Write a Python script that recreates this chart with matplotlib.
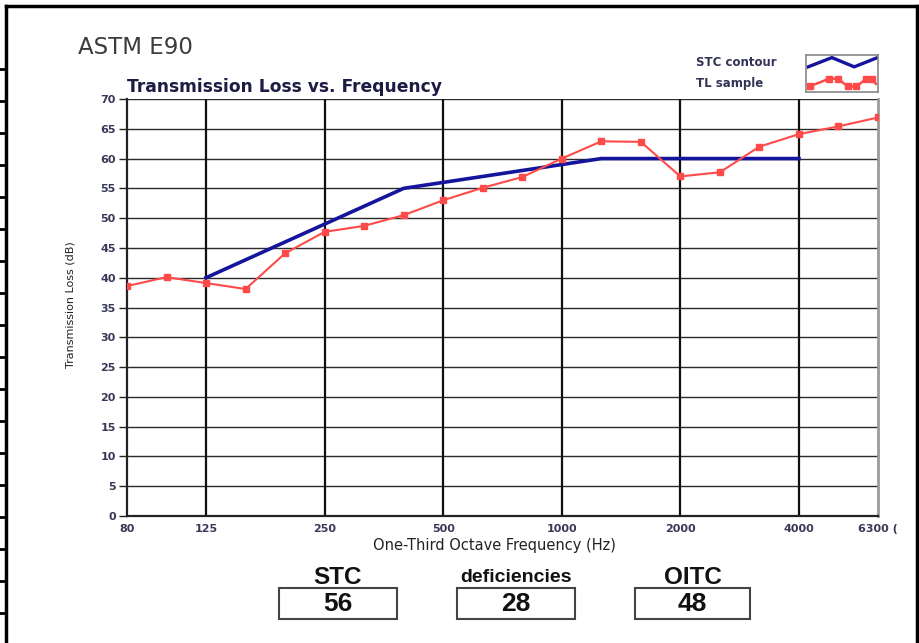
import numpy as np
import matplotlib
matplotlib.use("Agg")
import matplotlib.pyplot as plt
from matplotlib.patches import Rectangle
from matplotlib.lines import Line2D
from matplotlib import font_manager

# one-third octave bands 80 Hz .. 6300 Hz
bands = ["80", "100", "125", "160", "200", "250", "315", "400", "500", "630", "800",
         "1000", "1250", "1600", "2000", "2500", "3150", "4000", "5000", "6300"]
tl_sample = [38.6, 40.1, 39.1, 38.1, 44.1, 47.7, 48.7, 50.5, 53.0, 55.1, 56.9,
             60.0, 62.9, 62.8, 57.0, 57.7, 62.0, 64.1, 65.4, 66.9]
# STC contour, 125 Hz .. 4000 Hz
contour_bands = bands[2:18]
stc_contour = [40, 43, 46, 49, 52, 55, 56, 57, 58, 59, 60, 60, 60, 60, 60, 60]
tick_labels = ["80", "125", "250", "500", "1000", "2000", "4000", "6300 ("]
tick_bands = ["80", "125", "250", "500", "1000", "2000", "4000", "6300"]
results = [("STC", "56"), ("deficiencies", "28"), ("OITC", "48")]

# pick a narrow face for the y label if one is installed
names = {f.name for f in font_manager.fontManager.ttflist}
narrow = [n for n in ["Liberation Sans Narrow", "DejaVu Sans Condensed"] if n in names]
ylab_family = narrow[0] if narrow else "DejaVu Sans"
ylab_size = 9.5 if narrow else 8

W, H = 919, 643
fig = plt.figure(figsize=(W / 100, H / 100), dpi=100)

def fx(px):
    return px / W

def fy(py):
    return 1 - py / H

ax = fig.add_axes([fx(127), fy(516), fx(878) - fx(127), fy(99) - fy(516)])
pos = {b: i for i, b in enumerate(bands)}
x_tl = [pos[b] for b in bands]
x_stc = [pos[b] for b in contour_bands]

ax.set_xlim(0, len(bands) - 1)
ax.set_ylim(0, 70)

# grid
ax.set_yticks(np.arange(0, 71, 5))
ax.set_xticks([pos[b] for b in tick_bands])
ax.set_xticklabels(tick_labels)
for yv in np.arange(5, 71, 5):
    ax.axhline(yv, color="#2a2a2a", lw=1.0, zorder=1)
for b in tick_bands[1:-1]:
    ax.axvline(pos[b], color="#111111", lw=1.6, zorder=1)

ax.plot(x_stc, stc_contour, color="#14149c", lw=2.6, zorder=3)
ax.plot(x_tl, tl_sample, color="#ff4a4a", lw=1.5, marker="s", ms=5,
        mec="#ff4a4a", zorder=4)

for s in ["left", "bottom"]:
    ax.spines[s].set_color("#222222")
    ax.spines[s].set_linewidth(1.6)
ax.spines["top"].set_visible(False)
ax.spines["right"].set_color("#9a9a9a")
ax.spines["right"].set_linewidth(2)

lab_col = "#383858"
ax.tick_params(axis="y", length=6, width=1, color="#222222", labelsize=8,
               labelcolor=lab_col, pad=2)
ax.tick_params(axis="x", length=0, labelsize=8, labelcolor=lab_col, pad=6)
ax.set_xticks([0, len(bands) - 1], minor=True)
ax.tick_params(axis="x", which="minor", length=4, width=1, color="#222222")
for t in ax.get_xticklabels() + ax.get_yticklabels():
    t.set_fontweight("bold")

ax.set_ylabel("Transmission Loss (dB)", fontsize=ylab_size, family=ylab_family,
              color="#222222")
ax.yaxis.set_label_coords(-0.069, 0.506)
ax.set_xlabel("One-Third Octave Frequency (Hz)", fontsize=10.5, color="#222222")
ax.xaxis.set_label_coords(0.489, -0.052)

fig.text(fx(127), fy(96), "Transmission Loss vs. Frequency", fontsize=12.3,
         fontweight="bold", color="#1c1c44", ha="left", va="bottom")
fig.text(fx(78), fy(47), "ASTM E90", fontsize=16.5, color="#3c3c3c",
         ha="left", va="center")

# legend
fig.text(fx(696), fy(63), "STC contour", fontsize=8.5, fontweight="bold",
         color="#333355", ha="left", va="center")
fig.text(fx(696), fy(83), "TL sample", fontsize=8.5, fontweight="bold",
         color="#333355", ha="left", va="center")
lax = fig.add_axes([fx(806), fy(92), fx(878) - fx(806), fy(55) - fy(92)])
lax.set_xlim(0, 1)
lax.set_ylim(0, 1)
lax.set_xticks([])
lax.set_yticks([])
for s in lax.spines.values():
    s.set_color("#888888")
    s.set_linewidth(1.2)
lax.plot([0.03, 0.36, 0.67, 0.98], [0.68, 0.93, 0.68, 0.92], color="#14149c", lw=2.4)
zig_x = [0.05, 0.32, 0.44, 0.58, 0.7, 0.84, 0.92, 0.97]
zig_y = [0.15, 0.36, 0.36, 0.15, 0.15, 0.36, 0.36, 0.22]
lax.plot(zig_x, zig_y, color="#ff4a4a", lw=1.8, marker="s", ms=4.5,
         markevery=[0, 1, 2, 3, 4, 5, 6])

# result boxes
boxes = [(279, 397), (457, 575), (635, 750)]
for (name, val), (x0, x1) in zip(results, boxes):
    fig.add_artist(Rectangle((fx(x0), fy(619)), fx(x1) - fx(x0), fy(588) - fy(619),
                             transform=fig.transFigure, fill=False,
                             edgecolor="#444444", lw=1.5))
    size = 14 if name == "deficiencies" else 17.5
    fig.text(fx((x0 + x1) / 2), fy(577), name, fontsize=size, fontweight="bold",
             family=["Liberation Sans", "DejaVu Sans"], color="#111111",
             ha="center", va="center")
    fig.text(fx((x0 + x1) / 2), fy(604), val, fontsize=19, fontweight="bold",
             family=["Liberation Sans", "DejaVu Sans"], color="#111111",
             ha="center", va="center")

# page frame around the chart
frame = dict(color="black", lw=2.5, transform=fig.transFigure)
fig.add_artist(Line2D([fx(6), fx(6)], [0, fy(6)], **frame))
fig.add_artist(Line2D([fx(6), fx(917)], [fy(6), fy(6)], **frame))
fig.add_artist(Line2D([fx(917), fx(917)], [fy(6), 0], **frame))
for py in np.arange(69, 620, 32):
    fig.add_artist(Line2D([0, fx(6)], [fy(py), fy(py)], color="black", lw=2,
                          transform=fig.transFigure))

fig.savefig("out.png", dpi=100)
